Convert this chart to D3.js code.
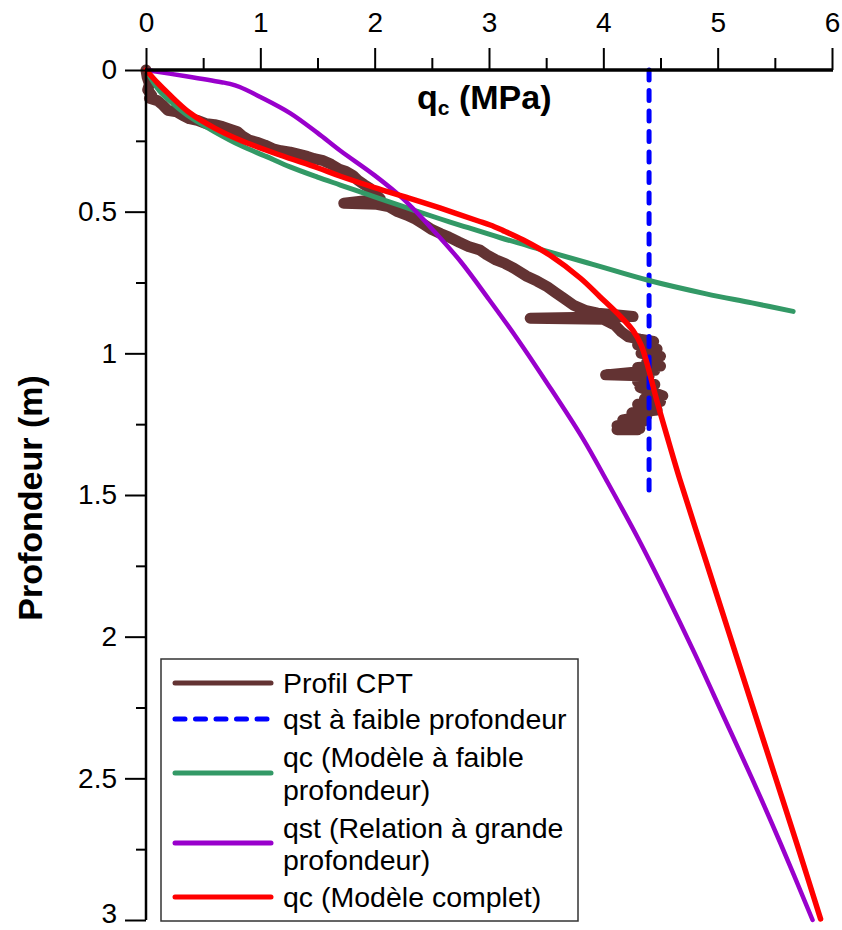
<!DOCTYPE html>
<html><head><meta charset="utf-8">
<script src="https://cdn.jsdelivr.net/npm/d3@7"></script>
<style>
body{margin:0;background:#fff}
svg{display:block}
text{font-family:"Liberation Sans",Arial,Helvetica,sans-serif;fill:#000}
</style>
</head><body>
<svg id="chart" width="842" height="930"></svg>
<script>
// ---- tick values ----
const qMajorTicks = [0, 1, 2, 3, 4, 5, 6];
const qMinorTicks = [0.5, 1.5, 2.5, 3.5, 4.5, 5.5];
const depthMajorTicks = [0, 0.5, 1, 1.5, 2, 2.5, 3];
const depthMinorTicks = [0.25, 0.75, 1.25, 1.75, 2.25, 2.75];

// ---- series names ----
const seriesNames = ["Profil CPT", "qst à faible profondeur", "qc (Modèle à faible profondeur)", "qst (Relation à grande profondeur)", "qc (Modèle complet)"];

// ---- Profil CPT (q in MPa, depth in m) ----
const cptQ = [0,0.01,0.03,0.015,0.05,0.03,0.1,0.15,0.19,0.27,0.32,0.38,0.45,0.53,0.6,0.67,0.74,0.8,0.85,0.9,0.97,1.04,1.11,1.18,1.26,1.34,1.41,1.47,1.55,1.62,1.69,1.75,1.81,1.85,1.91,1.96,2.0,2.05,1.73,2.02,2.12,2.2,2.28,2.36,2.43,2.5,2.58,2.65,2.74,2.82,2.92,2.98,3.06,3.14,3.22,3.33,3.42,3.51,3.58,3.65,3.74,3.84,3.95,4.1,4.26,3.36,4.0,4.1,4.16,4.22,4.32,4.44,4.3,4.47,4.33,4.5,4.38,4.5,4.3,4.45,4.02,4.4,4.3,4.45,4.32,4.52,4.36,4.5,4.3,4.47,4.25,4.38,4.17,4.35,4.12,4.32,4.12,4.3];
const cptDepth = [0,0.025,0.05,0.07,0.09,0.1,0.108,0.125,0.142,0.148,0.16,0.172,0.178,0.19,0.193,0.2,0.21,0.218,0.235,0.247,0.255,0.265,0.278,0.285,0.29,0.298,0.305,0.313,0.32,0.333,0.35,0.358,0.372,0.388,0.405,0.418,0.435,0.455,0.47,0.474,0.482,0.5,0.512,0.527,0.545,0.563,0.578,0.59,0.608,0.623,0.635,0.652,0.67,0.683,0.7,0.728,0.745,0.765,0.785,0.805,0.83,0.848,0.858,0.864,0.87,0.876,0.88,0.9,0.925,0.942,0.95,0.958,0.97,0.985,1.0,1.01,1.03,1.045,1.05,1.06,1.076,1.08,1.1,1.11,1.12,1.15,1.16,1.17,1.18,1.2,1.21,1.22,1.235,1.24,1.255,1.265,1.27,1.27];

// ---- qst à faible profondeur ----
const qstShallowQ = [4.4, 4.4];
const qstShallowDepth = [0, 1.5];

// ---- qc (Modèle à faible profondeur) ----
const qcShallowQ = [0,0.12,0.24,0.385,0.6,0.82,1.05,1.26,1.5,1.7,2.0,2.22,2.57,2.75,3.1,3.45,3.9,4.4,4.9,5.3,5.66];
const qcShallowDepth = [0,0.075,0.12,0.166,0.218,0.265,0.305,0.342,0.378,0.406,0.448,0.478,0.525,0.548,0.592,0.633,0.685,0.743,0.79,0.822,0.852];

// ---- qst (Relation à grande profondeur) ----
const qstDeepQ = [0,0.35,0.66,0.735,0.82,1.0,1.26,1.5,1.7,2.0,2.25,2.5,2.75,3.0,3.25,3.5,3.82,4.03,4.3,4.55,4.8,5.05,5.3,5.55,5.83];
const qstDeepDepth = [0,0.022,0.043,0.049,0.06,0.095,0.152,0.222,0.285,0.372,0.455,0.56,0.675,0.81,0.95,1.10,1.30,1.45,1.65,1.85,2.06,2.28,2.50,2.73,3.0];

// ---- qc (Modèle complet) ----
const qcFullQ = [0,0.1,0.2,0.385,0.6,0.82,1.17,1.5,1.7,2.0,2.3,2.57,2.9,3.01,3.12,3.3,3.53,3.8,3.97,4.15,4.26,4.33,4.39,4.47,4.57,4.67,4.9,5.1,5.3,5.5,5.7,5.9];
const qcFullDepth = [0,0.045,0.085,0.152,0.205,0.247,0.30,0.345,0.375,0.415,0.452,0.487,0.532,0.547,0.566,0.6,0.653,0.735,0.80,0.87,0.92,0.97,1.047,1.17,1.31,1.446,1.736,1.988,2.24,2.49,2.74,2.996];

const colors = {cpt:"#633333", blue:"#0000ff", green:"#339966", purple:"#9900cc", red:"#ff0000"};

const svg = d3.select("#chart");
const x = d3.scaleLinear().domain([0, 6]).range([146, 832]);
const y = d3.scaleLinear().domain([0, 3]).range([70, 920]);

const zip = (a, b) => a.map((v, i) => [v, b[i]]);
const lineLin = d3.line().x(d => x(d[0])).y(d => y(d[1]));
const lineSmooth = d3.line().x(d => x(d[0])).y(d => y(d[1])).curve(d3.curveCatmullRom.alpha(0.5));

// ---- series ----
svg.append("path").attr("d", lineLin(zip(cptQ, cptDepth)))
  .attr("fill","none").attr("stroke",colors.cpt).attr("stroke-width",11)
  .attr("stroke-linejoin","round").attr("stroke-linecap","round");

svg.append("path").attr("d", lineLin(zip(qstShallowQ, qstShallowDepth)))
  .attr("fill","none").attr("stroke",colors.blue).attr("stroke-width",5)
  .attr("stroke-dasharray","10,10.5").attr("stroke-linecap","round");

svg.append("path").attr("d", lineSmooth(zip(qcShallowQ, qcShallowDepth)))
  .attr("fill","none").attr("stroke",colors.green).attr("stroke-width",5)
  .attr("stroke-linecap","round");

svg.append("path").attr("d", lineSmooth(zip(qstDeepQ, qstDeepDepth)))
  .attr("fill","none").attr("stroke",colors.purple).attr("stroke-width",4.5)
  .attr("stroke-linecap","round");

svg.append("path").attr("d", lineSmooth(zip(qcFullQ, qcFullDepth)))
  .attr("fill","none").attr("stroke",colors.red).attr("stroke-width",5.5)
  .attr("stroke-linecap","round");

// ---- axes ----
const fmt = d => String(d);
const gx = svg.append("g").attr("transform","translate(0,70)");
gx.call(d3.axisTop(x).tickValues(qMajorTicks).tickSize(22).tickPadding(16).tickSizeOuter(0).tickFormat(fmt));
const gxm = svg.append("g").attr("transform","translate(0,70)");
gxm.call(d3.axisTop(x).tickValues(qMinorTicks).tickSize(12).tickFormat("").tickSizeOuter(0));

const gy = svg.append("g").attr("transform","translate(146,0)");
gy.call(d3.axisLeft(y).tickValues(depthMajorTicks).tickSize(21).tickPadding(8).tickSizeOuter(0).tickFormat(fmt));
const gym = svg.append("g").attr("transform","translate(146,0)");
gym.call(d3.axisLeft(y).tickValues(depthMinorTicks).tickSize(10).tickFormat("").tickSizeOuter(0));

svg.selectAll(".domain").remove();
svg.selectAll(".tick line").attr("stroke","#000").attr("stroke-width",2);
svg.selectAll(".tick text").attr("font-size",28).attr("font-family",'"Liberation Sans",Arial,sans-serif').attr("fill","#000");
gy.selectAll(".tick text").attr("dy", d => d === 3 ? "0.08em" : "0.32em");

svg.append("line").attr("x1",x(0)).attr("x2",x(0)).attr("y1",y(0)).attr("y2",y(3))
  .attr("stroke","#000").attr("stroke-width",2.5);
svg.append("line").attr("x1",x(0)-1).attr("x2",x(6)+1).attr("y1",y(0)).attr("y2",y(0))
  .attr("stroke","#000").attr("stroke-width",3.5);

// ---- axis titles ----
const t = svg.append("text").attr("x",417).attr("y",109).attr("font-size",34).attr("font-weight","bold");
t.append("tspan").text("q");
t.append("tspan").attr("font-size",21).attr("dy",6).text("c");
t.append("tspan").attr("dy",-6).text(" (MPa)");

svg.append("text").attr("transform","translate(42,498) rotate(-90)")
  .attr("text-anchor","middle").attr("font-size",34).attr("font-weight","bold")
  .text("Profondeur (m)");

// ---- legend ----
const lg = svg.append("g");
lg.append("rect").attr("x",161).attr("y",659).attr("width",417).attr("height",262)
  .attr("fill","#fff").attr("stroke","#333").attr("stroke-width",1.5);
const legendItems = [
  {color:colors.cpt, dash:null, ly:683, lines:[seriesNames[0]], ty:[683]},
  {color:colors.blue, dash:"10,10.5", ly:719, lines:[seriesNames[1]], ty:[719]},
  {color:colors.green, dash:null, ly:773, lines:["qc (Modèle à faible","profondeur)"], ty:[757,790]},
  {color:colors.purple, dash:null, ly:843, lines:["qst (Relation à grande","profondeur)"], ty:[828,860]},
  {color:colors.red, dash:null, ly:897, lines:[seriesNames[4]], ty:[897]}
];
legendItems.forEach(it => {
  const l = lg.append("line").attr("x1",175).attr("x2",271).attr("y1",it.ly).attr("y2",it.ly)
    .attr("stroke",it.color).attr("stroke-width",5).attr("stroke-linecap","round");
  if (it.dash) l.attr("stroke-dasharray",it.dash);
  it.lines.forEach((s,i) => {
    lg.append("text").attr("x",283).attr("y",it.ty[i]).attr("dy","0.35em")
      .attr("font-size",28.5).text(s);
  });
});
</script>
</body></html>
